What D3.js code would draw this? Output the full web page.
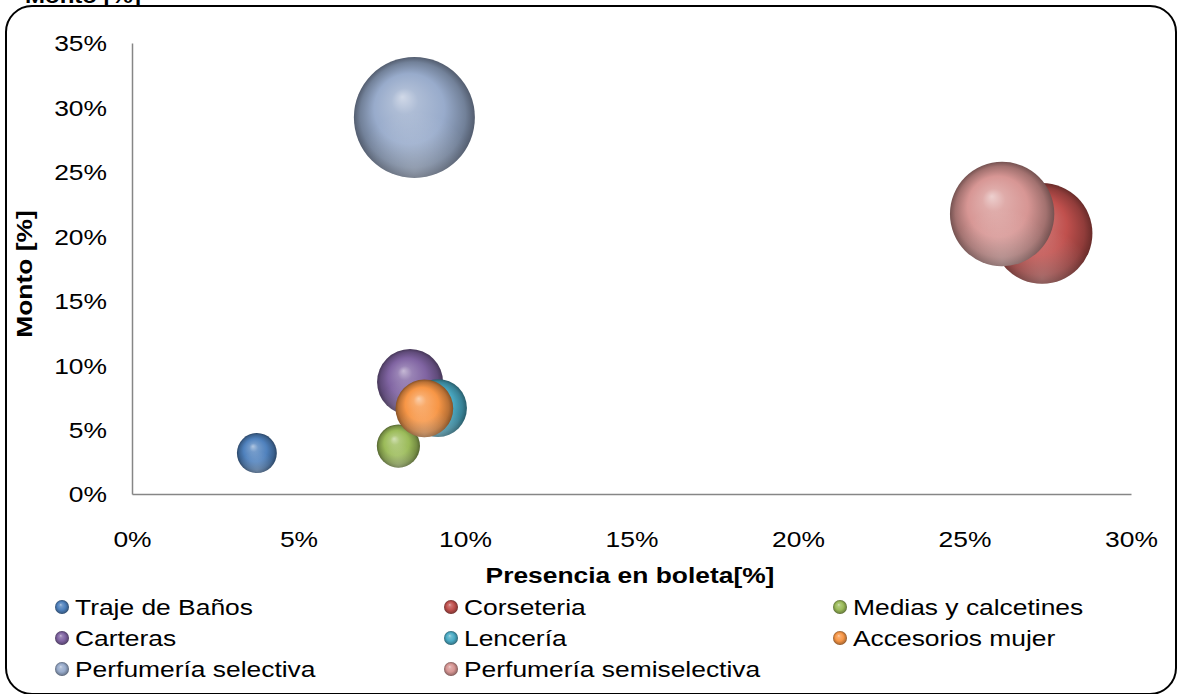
<!DOCTYPE html>
<html>
<head>
<meta charset="utf-8">
<script src="https://cdn.jsdelivr.net/npm/d3@7"></script>
<style>
  html, body { margin: 0; padding: 0; background: #fff; }
  svg { display: block; }
  text { font-family: "Liberation Sans", Arial, sans-serif; fill: #000; }
</style>
</head>
<body>
<svg id="chart" width="1177" height="694"></svg>
<script>
// Categories and values (percent units)
const categories = [
  "Traje de Baños", "Corseteria", "Medias y calcetines", "Carteras",
  "Lencería", "Accesorios mujer", "Perfumería selectiva", "Perfumería semiselectiva"
];
const presencia = [3.75, 27.33, 8.0, 8.35, 9.19, 8.78, 8.48, 26.13];   // x: Presencia en boleta [%]
const monto     = [3.18, 20.22, 3.72, 8.69, 6.67, 6.64, 29.22, 21.73]; // y: Monto [%], also bubble size
const seriesColors = ["#4F81BD", "#C0504D", "#9BBB59", "#8064A2", "#4BACC6", "#F79646", "#98ABCB", "#D79694"];
const xTickValues = [0, 5, 10, 15, 20, 25, 30];
const yTickValues = [0, 5, 10, 15, 20, 25, 30, 35];

const svg = d3.select("#chart");

// Text is drawn slightly widened along its own direction
const WIDE = 1.2;
const FS = 22;

// Plot area
const plot = { left: 132, right: 1131, top: 43, bottom: 494 };

const x = d3.scaleLinear().domain([0, 30]).range([plot.left, plot.right]);
const y = d3.scaleLinear().domain([0, 35]).range([plot.bottom, plot.top]);
const r = d3.scaleSqrt().domain([0, d3.max(monto)]).range([0, 60.5]);

// Sphere-like shading for each series
const defs = svg.append("defs");
seriesColors.forEach((c, i) => {
  const base = d3.color(c);
  const g = defs.append("radialGradient")
    .attr("id", "sph" + i)
    .attr("cx", "0.5").attr("cy", "0.5").attr("r", "0.5")
    .attr("fx", "0.4").attr("fy", "0.33");
  const hi = d3.interpolateRgb(c, "#ffffff");
  g.append("stop").attr("offset", "0%").attr("stop-color", hi(0.55));
  g.append("stop").attr("offset", "22%").attr("stop-color", hi(0.2));
  g.append("stop").attr("offset", "58%").attr("stop-color", base.formatHex());
  g.append("stop").attr("offset", "87%").attr("stop-color", base.darker(0.8).formatHex());
  g.append("stop").attr("offset", "100%").attr("stop-color", base.darker(1.7).formatHex());
});
// Soft reflected light near the lower rim
const refl = defs.append("radialGradient")
  .attr("id", "refl").attr("cx", "0.5").attr("cy", "0.95").attr("r", "0.5");
refl.append("stop").attr("offset", "0%").attr("stop-color", "#ffffff").attr("stop-opacity", 0.25);
refl.append("stop").attr("offset", "100%").attr("stop-color", "#ffffff").attr("stop-opacity", 0);

// Helper: place a widened text at (tx, ty)
function wideText(parent, tx, ty, str, opts = {}) {
  const t = parent.append("text")
    .attr("transform", `translate(${tx},${ty})${opts.rotate ? ` rotate(${opts.rotate})` : ""} scale(${WIDE},1)`)
    .style("font-size", (opts.size || FS) + "px")
    .text(str);
  if (opts.bold) t.style("font-weight", "bold");
  if (opts.anchor) t.attr("text-anchor", opts.anchor);
  if (opts.dy) t.attr("dy", opts.dy);
  return t;
}

// Heading text running off the top edge
wideText(svg, 25, 3, "Monto [%]", { bold: true, size: 20 });

// Rounded frame
svg.append("rect")
  .attr("x", 6).attr("y", 6)
  .attr("width", 1170).attr("height", 688)
  .attr("rx", 26).attr("ry", 26)
  .attr("fill", "none").attr("stroke", "#000").attr("stroke-width", 2);

// Axes
const axisColor = "#868686";
const fmt = d => d + "%";

const xAxis = svg.append("g")
  .attr("transform", `translate(0,${plot.bottom})`)
  .call(d3.axisBottom(x).tickValues(xTickValues).tickFormat(fmt).tickSize(0).tickPadding(37));
const yAxis = svg.append("g")
  .attr("transform", `translate(${plot.left},0)`)
  .call(d3.axisLeft(y).tickValues(yTickValues).tickFormat(fmt).tickSize(0).tickPadding(25));

[xAxis, yAxis].forEach(a => {
  a.select(".domain").attr("stroke", axisColor).attr("stroke-width", 1.5);
  a.selectAll(".tick text")
    .style("font-family", '"Liberation Sans", Arial, sans-serif')
    .style("font-size", FS + "px").attr("fill", "#000")
    .each(function () {
      const t = d3.select(this);
      const tx = +t.attr("x") || 0, ty = +t.attr("y") || 0;
      t.attr("x", 0).attr("y", 0)
        .attr("transform", `translate(${tx},${ty}) scale(${WIDE},1)`);
    });
});
yAxis.selectAll(".tick text").attr("dy", "0.36em");

// Axis titles
wideText(svg, 630, 583, "Presencia en boleta[%]", { bold: true, anchor: "middle" });
wideText(svg, 32, 274, "Monto [%]", { bold: true, anchor: "middle", rotate: -90 });

// Bubbles, drawn in series order
const data = categories.map((name, i) => ({ name, i, px: presencia[i], mt: monto[i] }));
const bubbles = svg.append("g").selectAll("g").data(data).join("g");
bubbles.append("circle")
  .attr("cx", d => x(d.px)).attr("cy", d => y(d.mt)).attr("r", d => r(d.mt))
  .attr("fill", d => `url(#sph${d.i})`);
bubbles.append("circle")
  .attr("cx", d => x(d.px)).attr("cy", d => y(d.mt)).attr("r", d => r(d.mt))
  .attr("fill", "url(#refl)");

// Legend: three columns, row-major order
const legCols = [62, 451, 840];
const legRows = [607, 638, 669];
const legend = svg.append("g").selectAll("g").data(data).join("g")
  .attr("transform", d => `translate(${legCols[d.i % 3]},${legRows[Math.floor(d.i / 3)]})`);
legend.append("circle").attr("r", 7).attr("fill", d => `url(#sph${d.i})`);
legend.each(function (d) {
  wideText(d3.select(this), 13, 0, d.name, { dy: "0.36em" });
});
</script>
</body>
</html>
